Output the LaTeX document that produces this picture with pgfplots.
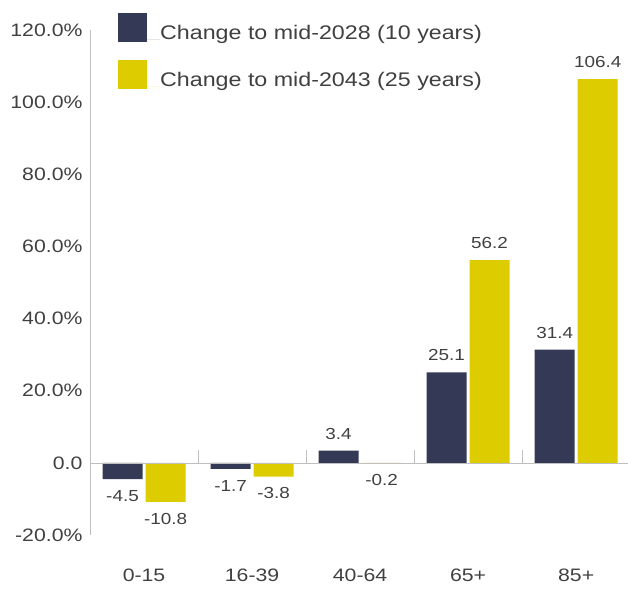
\documentclass[border=0pt]{standalone}
\usepackage{pgfplots}
\pgfplotsset{compat=1.18}
\usepackage{fontspec}
\setmainfont[FakeStretch=1.18]{Liberation Sans}
\definecolor{navy}{RGB}{52,58,86}
\definecolor{gold}{RGB}{221,204,0}
\definecolor{txt}{RGB}{64,64,64}
\definecolor{axg}{RGB}{191,191,191}
\begin{document}
\begin{tikzpicture}
\path[use as bounding box] (-90pt,-69pt) rectangle (538pt,535pt);
\begin{axis}[
  at={(0pt,0pt)}, anchor=south west,
  scale only axis, width=538pt, height=505pt,
  xmin=-0.5, xmax=4.48, ymin=-20, ymax=120,
  ybar=3pt, bar width=40pt,
  axis y line=left, axis x line=bottom,
  y axis line style={draw=axg, -},
  x axis line style={draw=none},
  major tick length=0pt,
  xtick={0,1,2,3,4},
  xticklabels={0-15,16-39,40-64,65+,85+},
  ytick={-20,0,20,40,60,80,100,120},
  yticklabels={-20.0\%,0.0,20.0\%,40.0\%,60.0\%,80.0\%,100.0\%,120.0\%},
  ticklabel style={font=\fontsize{18}{20}\selectfont, text=txt},
  yticklabel style={anchor=east, xshift=-4pt},
  xticklabel style={anchor=north, yshift=-30pt},
  nodes near coords,
  nodes near coords align={vertical},
  /pgf/number format/assume math mode=true,
  /pgf/number format/.cd, fixed, fixed zerofill, precision=1, /pgfplots/.cd,
  every node near coord/.append style={font=\fontsize{16}{18}\selectfont, text=txt, inner xsep=0pt, inner ysep=11pt},
  legend style={at={(0.052,1.034)}, anchor=north west, draw=none, fill=none,
    inner sep=0pt, row sep=18pt, font=\fontsize{19.7}{21}\selectfont, text=txt,
    nodes={inner sep=0pt, text height=14pt, text depth=0pt, yshift=7pt}},
  legend cell align=left,
]
\addplot[fill=navy, draw=none,
  legend image code/.code={\fill[navy] (0pt,-3pt) rectangle (29pt,26pt); \path (0pt,0pt) -- (42pt,0pt);}]
  coordinates {(0,-4.5) (1,-1.7) (2,3.4) (3,25.1) (4,31.4)};
\addlegendentry{Change to mid-2028 (10 years)}
\addplot[fill=gold, draw=none,
  legend image code/.code={\fill[gold] (0pt,-3pt) rectangle (29pt,26pt); \path (0pt,0pt) -- (42pt,0pt);}]
  coordinates {(0,-10.8) (1,-3.8) (2,-0.2) (3,56.2) (4,106.4)};
\addlegendentry{Change to mid-2043 (25 years)}
\draw[axg] (axis cs:-0.5,0) -- (axis cs:4.48,0);
\pgfplotsinvokeforeach{0.5,1.5,2.5,3.5}{\draw[axg] (axis cs:#1,0) -- ++(0pt,13pt);}
\end{axis}
\end{tikzpicture}
\end{document}
